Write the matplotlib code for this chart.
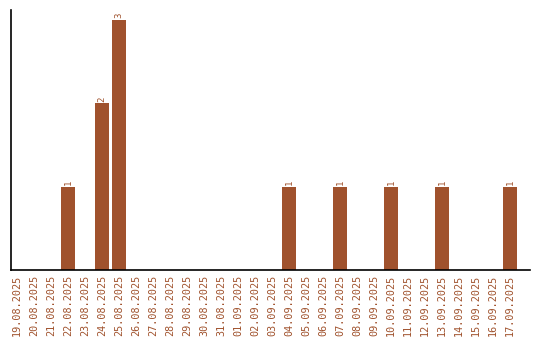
import matplotlib
matplotlib.use("Agg")
import matplotlib.pyplot as plt

dates = ["19.08.2025", "20.08.2025", "21.08.2025", "22.08.2025", "23.08.2025",
         "24.08.2025", "25.08.2025", "26.08.2025", "27.08.2025", "28.08.2025",
         "29.08.2025", "30.08.2025", "31.08.2025", "01.09.2025", "02.09.2025",
         "03.09.2025", "04.09.2025", "05.09.2025", "06.09.2025", "07.09.2025",
         "08.09.2025", "09.09.2025", "10.09.2025", "11.09.2025", "12.09.2025",
         "13.09.2025", "14.09.2025", "15.09.2025", "16.09.2025", "17.09.2025"]
counts = [0, 0, 0, 1, 0, 2, 3, 0, 0, 0,
          0, 0, 0, 0, 0, 0, 1, 0, 0, 1,
          0, 0, 1, 0, 0, 1, 0, 0, 0, 1]

color = "#a0522d"

fig = plt.figure(figsize=(5.4, 3.4), dpi=100)
ax = fig.add_axes([11 / 540, 70 / 340, 519 / 540, 260 / 340])

x = list(range(len(dates)))
ax.bar(x, counts, width=0.82, color=color)

for xi, c in zip(x, counts):
    if c > 0:
        ax.text(xi, c + 0.02, str(c), rotation=90, ha="center", va="bottom",
                color=color, fontsize=6.5, family="DejaVu Sans Mono")

ax.set_xlim(-0.35, 30.18)
ax.set_ylim(0, 3.12)
ax.set_xticks(x)
ax.set_xticklabels(dates, rotation=90, color=color, fontsize=7.3,
                   family="DejaVu Sans Mono")
ax.tick_params(axis="x", length=0, pad=3.5)
ax.set_yticks([])
ax.spines["top"].set_visible(False)
ax.spines["right"].set_visible(False)
ax.spines["left"].set_linewidth(1.2)
ax.spines["bottom"].set_linewidth(1.2)

fig.savefig("out.png", dpi=100)
